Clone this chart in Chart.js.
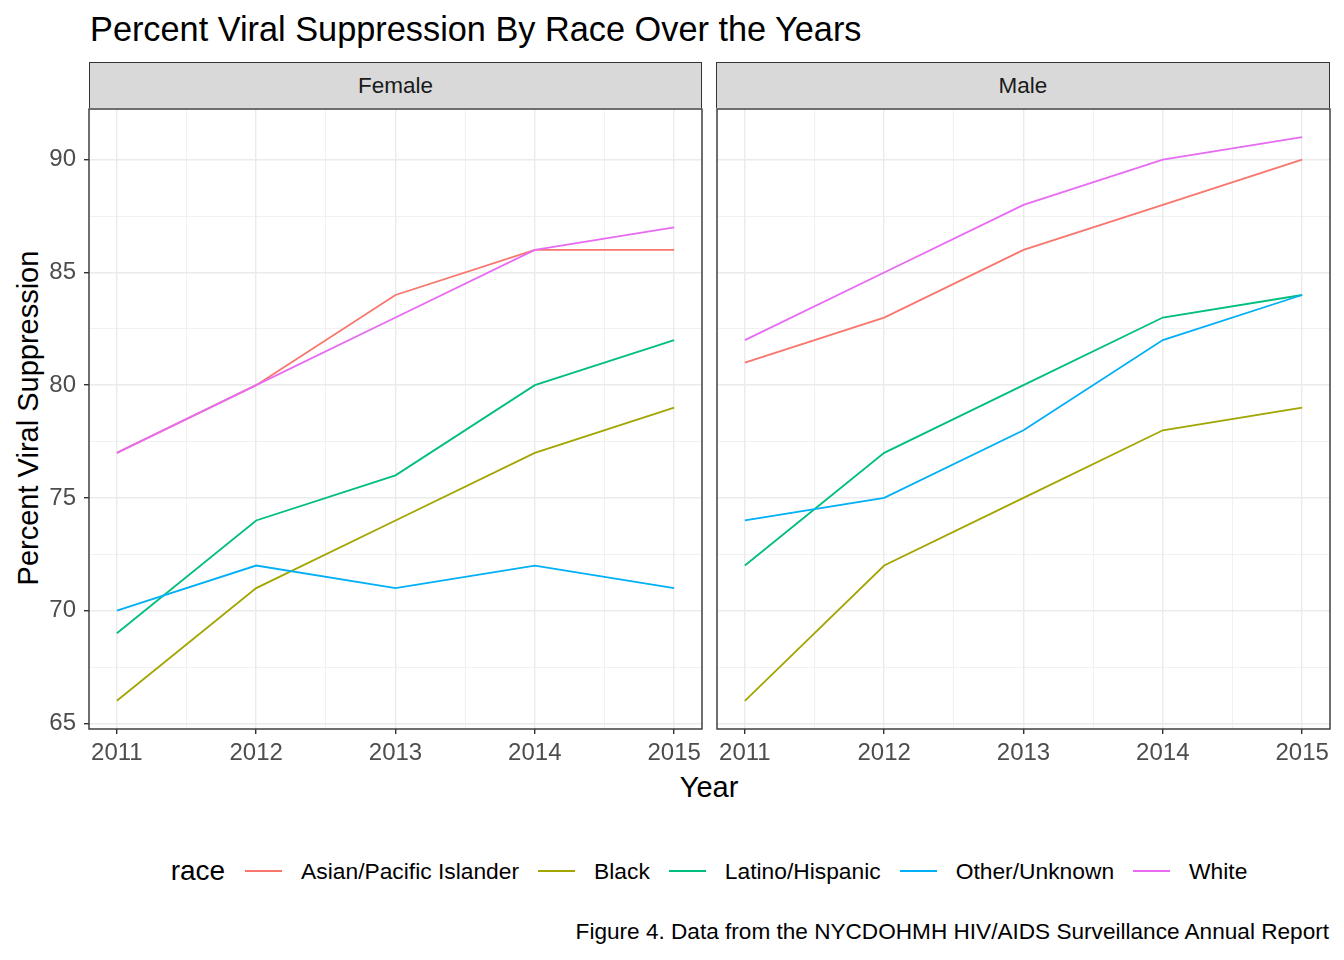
<!DOCTYPE html>
<html lang="en">
<head>
<meta charset="UTF-8">
<title>Percent Viral Suppression By Race</title>
<script src="https://cdn.jsdelivr.net/npm/chart.js"></script>
<style>
  body { margin: 0; width: 1344px; height: 960px; background: #fff; position: relative; overflow: hidden;
         font-family: "Liberation Sans", Arial, sans-serif; }
  .abs { position: absolute; }
  .title { left: 90px; top: 10px; font-size: 34.3px; color: #000; white-space: nowrap; }
  .strip { top: 62px; height: 46px; background: #D9D9D9; border: 1.4px solid #333; border-bottom: none; box-sizing: border-box;
           font-size: 22.5px; color: #1A1A1A; display: flex; align-items: center; justify-content: center; }
  .ytitle { left: 28px; top: 418px; font-size: 29px; color: #000; white-space: nowrap;
            transform: translate(-50%, -50%) rotate(-90deg); }
  .xtitle { left: 709px; top: 787px; font-size: 29px; color: #000; transform: translate(-50%, -50%); }
  .legend { left: 0; width: 1418px; top: 871px; transform: translateY(-50%); display: flex; align-items: center;
            justify-content: center; font-size: 22.8px; color: #000; white-space: nowrap; }
  .legend .lt { font-size: 28px; margin-right: 20px; }
  .legend .key { display: inline-block; width: 37px; height: 2.2px; margin-right: 19px; }
  .legend .lab { margin-right: 19px; }
  .legend .lab:last-child { margin-right: 0; }
  .caption { right: 15px; top: 932px; font-size: 22.6px; color: #000; transform: translateY(-50%); white-space: nowrap; }
  canvas { position: absolute; }
</style>
</head>
<body>
<div class="abs title">Percent Viral Suppression By Race Over the Years</div>
<div class="abs strip" style="left:89px; width:613px;">Female</div>
<div class="abs strip" style="left:716px; width:614px;">Male</div>
<div class="abs ytitle">Percent Viral Suppression</div>
<div class="abs xtitle">Year</div>
<div class="abs legend" id="legend"><span class="lt">race</span></div>
<div class="abs caption">Figure 4. Data from the NYCDOHMH HIV/AIDS Surveillance Annual Report</div>

<div class="abs" style="left:0; top:100px; width:706px; height:670px;"><canvas id="female"></canvas></div>
<div class="abs" style="left:712px; top:100px; width:622px; height:670px;"><canvas id="male"></canvas></div>

<script>
const years = [2011, 2012, 2013, 2014, 2015]
const races = ['Asian/Pacific Islander', 'Black', 'Latino/Hispanic', 'Other/Unknown', 'White']
const raceColors = ['#F8766D', '#A3A500', '#00BF7D', '#00B0F6', '#E76BF3']

// values per race, same order as races
const femaleAsian = [77, 80, 84, 86, 86]
const femaleBlack = [66, 71, 74, 77, 79]
const femaleLatino = [69, 74, 76, 80, 82]
const femaleOther = [70, 72, 71, 72, 71]
const femaleWhite = [77, 80, 83, 86, 87]

const maleAsian = [81, 83, 86, 88, 90]
const maleBlack = [66, 72, 75, 78, 79]
const maleLatino = [72, 77, 80, 83, 84]
const maleOther = [74, 75, 78, 82, 84]
const maleWhite = [82, 85, 88, 90, 91]

const yTicks = [65, 67.5, 70, 72.5, 75, 77.5, 80, 82.5, 85, 87.5, 90]
const xTicks = [2011, 2011.5, 2012, 2012.5, 2013, 2013.5, 2014, 2014.5, 2015]

const FONT = '"Liberation Sans", Arial, sans-serif'

// legend built from the same arrays
const legend = document.getElementById('legend')
races.forEach((r, i) => {
  const k = document.createElement('span')
  k.className = 'key'
  k.style.background = raceColors[i]
  const l = document.createElement('span')
  l.className = 'lab'
  l.textContent = r
  legend.appendChild(k)
  legend.appendChild(l)
})

const panelBorder = {
  id: 'panelBorder',
  afterDraw(chart) {
    const a = chart.chartArea
    const ctx = chart.ctx
    ctx.save()
    ctx.strokeStyle = '#333333'
    ctx.lineWidth = 1.4
    ctx.strokeRect(a.left, a.top, a.right - a.left, a.bottom - a.top)
    ctx.restore()
  }
}

function isMajorY(v) { return v % 5 === 0 }
function isMajorX(v) { return Number.isInteger(v) }

// kill the automatic label overflow padding so panels line up exactly
function noPad(s) {
  s.paddingTop = 0
  s.paddingBottom = 0
  s.paddingLeft = 0
  s.paddingRight = 0
}

function makeChart(id, series, showY, padding) {
  const datasets = series.map((vals, i) => ({
    label: races[i],
    data: years.map((y, j) => ({ x: y, y: vals[j] })),
    borderColor: raceColors[i],
    backgroundColor: raceColors[i],
    borderWidth: 1.8,
    pointRadius: 0,
    tension: 0,
    order: races.length - i
  }))

  return new Chart(document.getElementById(id), {
    type: 'line',
    data: { datasets },
    options: {
      responsive: true,
      maintainAspectRatio: false,
      animation: false,
      layout: { padding },
      plugins: { legend: { display: false }, tooltip: { enabled: false } },
      scales: {
        x: {
          type: 'linear',
          min: 2010.8,
          max: 2015.2,
          afterBuildTicks: s => { s.ticks = xTicks.map(v => ({ value: v })) },
          afterFit: s => { s.height = 41; noPad(s) },
          border: { display: false },
          grid: {
            color: c => '#EBEBEB',
            lineWidth: c => isMajorX(c.tick.value) ? 1.4 : 0.7,
            tickColor: c => isMajorX(c.tick.value) ? '#333333' : 'rgba(0,0,0,0)',
            tickLength: 5,
            tickWidth: 1.4
          },
          ticks: {
            autoSkip: false,
            maxRotation: 0,
            padding: 5,
            color: '#4D4D4D',
            font: { family: FONT, size: 24 },
            callback: v => isMajorX(v) ? String(v) : ''
          }
        },
        y: {
          min: 64.75,
          max: 92.25,
          afterBuildTicks: s => { s.ticks = yTicks.map(v => ({ value: v })) },
          afterFit: s => { s.width = showY ? 89 : 0; noPad(s) },
          border: { display: false },
          grid: {
            color: c => '#EBEBEB',
            lineWidth: c => isMajorY(c.tick.value) ? 1.4 : 0.7,
            drawTicks: showY,
            tickColor: c => isMajorY(c.tick.value) ? '#333333' : 'rgba(0,0,0,0)',
            tickLength: 5,
            tickWidth: 1.4
          },
          ticks: {
            display: showY,
            padding: 8,
            color: '#4D4D4D',
            font: { family: FONT, size: 24 },
            callback: v => isMajorY(v) ? String(v) : ''
          }
        }
      }
    },
    plugins: [panelBorder]
  })
}

makeChart('female', [femaleAsian, femaleBlack, femaleLatino, femaleOther, femaleWhite], true,
  { top: 9, left: 0, right: 4, bottom: 0 })
makeChart('male', [maleAsian, maleBlack, maleLatino, maleOther, maleWhite], false,
  { top: 9, left: 5, right: 4, bottom: 0 })
</script>
</body>
</html>
